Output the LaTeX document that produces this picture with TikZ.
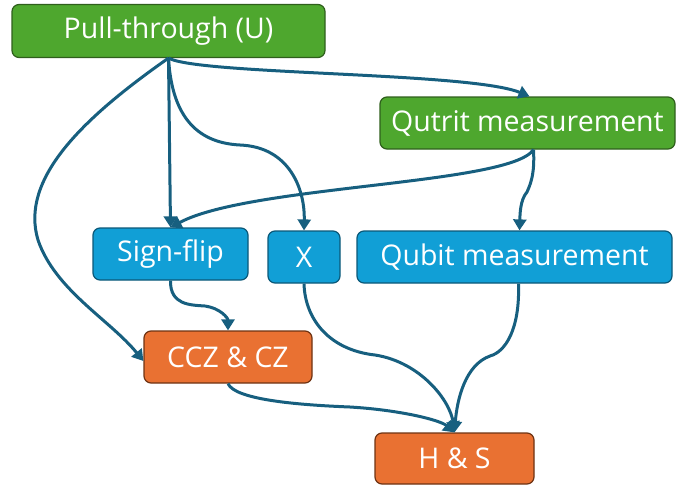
\documentclass[tikz,border=0pt]{standalone}
\usepackage{fontspec}
\setmainfont{Open Sans}
\usetikzlibrary{arrows.meta}
\definecolor{gfill}{HTML}{4EA72E}
\definecolor{gdraw}{HTML}{2F5F1C}
\definecolor{bfill}{HTML}{119FD6}
\definecolor{bdraw}{HTML}{0B5878}
\definecolor{ofill}{HTML}{E97132}
\definecolor{odraw}{HTML}{6E3313}
\definecolor{edge}{HTML}{175F7F}
\tikzset{
  box/.style={rounded corners=7pt, line width=1.2pt, text=white, inner sep=0pt,
    font=\fontsize{28.5}{32}\selectfont},
  gbox/.style={box, fill=gfill, draw=gdraw},
  bbox/.style={box, fill=bfill, draw=bdraw},
  obox/.style={box, fill=ofill, draw=odraw},
  conn/.style={draw=edge, line width=3pt, -{Triangle[length=11pt,width=13pt]}},
}
\begin{document}
\begin{tikzpicture}[x=1pt,y=-1pt]
\useasboundingbox (0,0) rectangle (678,485);
\node[gbox, minimum width=313pt, minimum height=53pt] (pull) at (168.5,31) {Pull-through (U)};
\node[gbox, minimum width=295pt, minimum height=52pt] (qutrit) at (527.5,123) {Qutrit measurement};
\node[bbox, minimum width=155pt, minimum height=52pt] (sign) at (170.5,254) {Sign-flip};
\node[bbox, minimum width=72pt, minimum height=52pt] (x) at (304,257) {X};
\node[bbox, minimum width=315pt, minimum height=52pt] (qubit) at (514.5,257) {Qubit measurement};
\node[obox, minimum width=168pt, minimum height=52pt] (ccz) at (228,357) {CCZ \& CZ};
\node[obox, minimum width=159pt, minimum height=51pt] (hs) at (454.5,458.5) {H \& S};

\draw[conn] (pull.south) .. controls (200,75) and (470,72) .. ([xshift=2pt]qutrit.north);
\draw[conn] (pull.south) -- (sign.north);
\draw[conn] (pull.south) .. controls (172,120) and (200,143) .. (240,145) .. controls (290,147) and (305,190) .. (x.north);
\draw[conn] (pull.south) .. controls (80,120) and (20,180) .. (38,240) .. controls (55,290) and (110,320) .. ([yshift=-4pt]ccz.west);
\draw[conn] ([xshift=6pt]qutrit.south) .. controls (510,185) and (250,185) .. (sign.north);
\draw[conn] ([xshift=6pt]qutrit.south) .. controls (535,175) and (530,185) .. (527,192) .. controls (520,200) and (520,215) .. ([xshift=5pt]qubit.north);
\draw[conn] (sign.south) .. controls (170,305) and (190,305) .. (205,306) .. controls (220,308) and (228,318) .. (ccz.north);
\draw[conn] (x.south) .. controls (305,320) and (330,350) .. (375,355) .. controls (420,362) and (450,400) .. (hs.north);
\draw[conn] ([xshift=4pt]qubit.south) .. controls (520,330) and (505,352) .. (490,356) .. controls (465,365) and (457,400) .. (hs.north);
\draw[conn] (ccz.south) .. controls (235,400) and (300,405) .. (350,407) .. controls (400,410) and (440,420) .. (hs.north);
\end{tikzpicture}
\end{document}
